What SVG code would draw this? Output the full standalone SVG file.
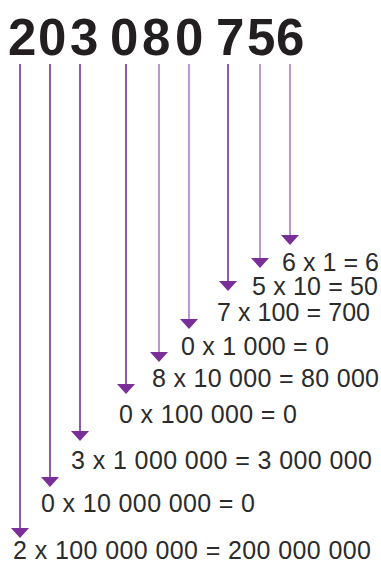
<svg xmlns="http://www.w3.org/2000/svg" width="381" height="564" viewBox="0 0 381 564">
<defs>
<style>
.title{font-family:"Liberation Sans",Arial,sans-serif;font-weight:bold;font-size:51px;fill:#231f20}
.lbl{font-family:"Liberation Sans",Arial,sans-serif;font-size:25px;fill:#2b2b2b}
.dk{stroke:#7330a0;stroke-width:1.6;fill:none}
.lt{stroke:#ad7cc8;stroke-width:1.6;fill:none}
.head{fill:#7a2f98}
</style>
</defs>
<rect width="381" height="564" fill="#ffffff"/>
<g id="number">
<text class="title" x="8 38 70 97 110 142 175 203 216 247 276" y="55">203 080 756</text>
</g>
<g id="connectors">
<line class="dk" x1="20" y1="64" x2="20" y2="529"/>
<polygon class="head" points="11,528 29,528 20,538"/>
<line class="dk" x1="50" y1="64" x2="50" y2="478"/>
<polygon class="head" points="41,477 59,477 50,487"/>
<line class="dk" x1="80" y1="64" x2="80" y2="432"/>
<polygon class="head" points="71,431 89,431 80,441"/>
<line class="dk" x1="126" y1="64" x2="126" y2="385"/>
<polygon class="head" points="117,384 135,384 126,394"/>
<line class="lt" x1="159" y1="64" x2="159" y2="353"/>
<polygon class="head" points="150,352 168,352 159,362"/>
<line class="lt" x1="189" y1="64" x2="189" y2="320"/>
<polygon class="head" points="180,319 198,319 189,329"/>
<line class="dk" x1="228" y1="64" x2="228" y2="282"/>
<polygon class="head" points="219,281 237,281 228,291"/>
<line class="lt" x1="260" y1="64" x2="260" y2="259"/>
<polygon class="head" points="251,258 269,258 260,268"/>
<line class="lt" x1="290" y1="64" x2="290" y2="236"/>
<polygon class="head" points="281,235 299,235 290,245"/>
</g>
<g id="r1"><text class="lbl" x="282" y="271" textLength="97" lengthAdjust="spacing">6 x 1 = 6</text></g>
<g id="r2"><text class="lbl" x="252" y="295" textLength="126" lengthAdjust="spacing">5 x 10 = 50</text></g>
<g id="r3"><text class="lbl" x="217" y="321" textLength="153" lengthAdjust="spacing">7 x 100 = 700</text></g>
<g id="r4"><text class="lbl" x="181" y="355" textLength="148" lengthAdjust="spacing">0 x 1 000 = 0</text></g>
<g id="r5"><text class="lbl" x="152" y="387" textLength="227" lengthAdjust="spacing">8 x 10 000 = 80 000</text></g>
<g id="r6"><text class="lbl" x="119" y="423" textLength="178" lengthAdjust="spacing">0 x 100 000 = 0</text></g>
<g id="r7"><text class="lbl" x="71" y="469" textLength="301" lengthAdjust="spacing">3 x 1 000 000 = 3 000 000</text></g>
<g id="r8"><text class="lbl" x="41" y="512" textLength="214" lengthAdjust="spacing">0 x 10 000 000 = 0</text></g>
<g id="r9"><text class="lbl" x="13" y="559" textLength="358" lengthAdjust="spacing">2 x 100 000 000 = 200 000 000</text></g>
</svg>
